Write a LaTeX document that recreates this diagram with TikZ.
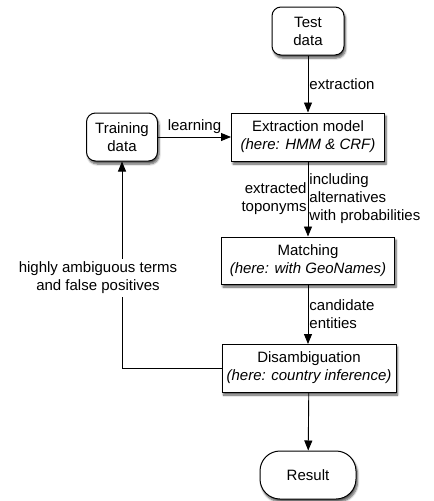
\documentclass[tikz,border=0pt]{standalone}
\usepackage{fontspec}
\setmainfont{Liberation Sans}
\usetikzlibrary{arrows.meta, shadows.blur}

\tikzset{
    box/.style={draw, line width=1pt, fill=white, minimum height=48pt, align=center, inner sep=2pt,
        font=\fontsize{15}{18}\selectfont,
        blur shadow={shadow xshift=1.5pt, shadow yshift=-3pt, shadow blur steps=6, shadow opacity=65}},
    datbox/.style={box, rounded corners=9pt},
    endbox/.style={box, rounded corners=20pt},
    lbl/.style={font=\fontsize{15}{18}\selectfont, inner sep=1pt},
    arr/.style={-{Triangle[width=8pt,length=10pt]}, line width=0.9pt}
}

\begin{document}
\begin{tikzpicture}[x=1pt, y=-1pt]
            \useasboundingbox (0,0) rectangle (434,501);
            \node[datbox, minimum width=72pt] (test) at (308,31) {Test\\data};
            \node[box, minimum width=153pt] (extract) at (308,137) {Extraction model\\\textit{(here: HMM \& CRF)}};
            \node[datbox, minimum width=71pt] (train) at (122,137) {Training\\data};
            \node[box, minimum width=173pt, minimum height=47pt] (match) at (308,260.5) {Matching\\\textit{(here: with GeoNames)}};
            \node[box, minimum width=174pt] (disamb) at (309,368) {Disambiguation\\\textit{(here: country inference)}};
            \node[endbox, minimum width=96pt] (result) at (308,475) {Result};
            \draw[arr] (test) -- (extract) node[midway, right, lbl] {extraction};
            \draw[arr] (train) -- (extract) node[midway, above, lbl, yshift=2pt] {learning};
            \draw[arr] (extract) -- (extract|-match.north)
                node[midway, left, lbl, align=right] {extracted\\toponyms}
                node[midway, right, lbl, align=left] {including\\alternatives\\with probabilities};
            \draw[arr] (match.south-|disamb) ++(-1,0) -- ++(0,59.5) node[midway, right, lbl, align=left] {candidate\\entities};
            \draw[arr] (disamb) -- (result);
            \draw[arr] (disamb.west) -| (train.south); % feedback loop
                \node[lbl, fill=white, align=center, inner sep=3pt] (fb) at (98,278) {highly ambiguous terms\\and false positives};
        \end{tikzpicture}
\end{document}
